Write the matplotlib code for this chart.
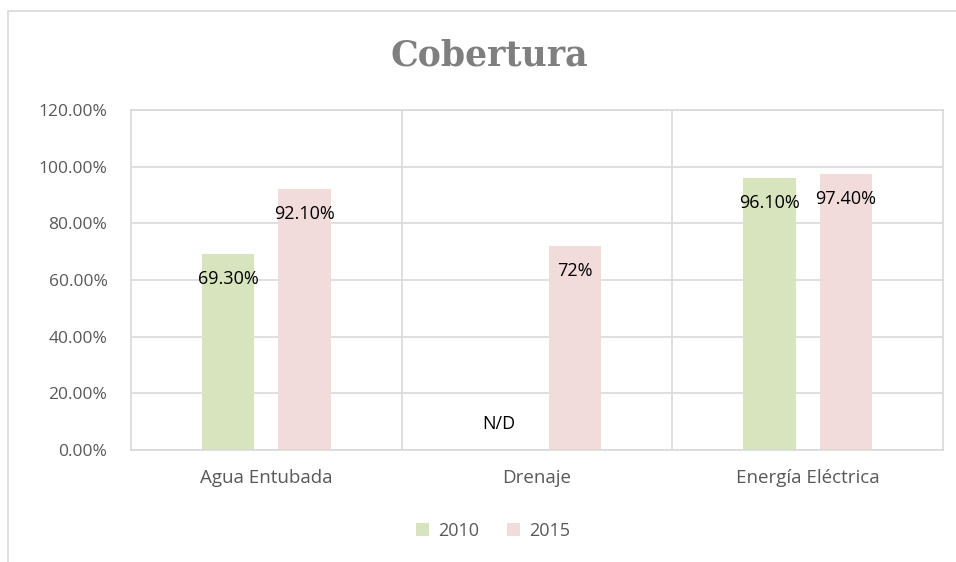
import matplotlib.pyplot as plt
from matplotlib.patches import Rectangle
from matplotlib.ticker import FuncFormatter
import numpy as np

# datos
categorias = ['Agua Entubada', 'Drenaje', 'Energía Eléctrica']
cobertura_2010 = [69.3, 0.0, 96.1]
cobertura_2015 = [92.1, 72.0, 97.4]
etiquetas_2010 = ['69.30%', 'N/D', '96.10%']
etiquetas_2015 = ['92.10%', '72%', '97.40%']
anios = ['2010', '2015']

verde = '#d7e4bd'
rosa = '#f2dcdb'
gris = '#d9d9d9'
texto = '#595959'

plt.rcParams['font.family'] = ['Open Sans', 'DejaVu Sans']

fig = plt.figure(figsize=(9.56, 5.62), dpi=100)
ax = fig.add_axes([131 / 956, 1 - 450 / 562, (943 - 131) / 956, (450 - 110) / 562])

# marco del grafico (cortado a la derecha y abajo)
fig.patches.append(Rectangle((8 / 956, -0.1), 1.2, 1 - 11 / 562 + 0.1,
                             transform=fig.transFigure, fill=False,
                             edgecolor=gris, linewidth=1.2))

x = np.arange(len(categorias))
ancho = 0.193
desp = 0.141
ax.bar(x - desp, cobertura_2010, ancho, color=verde, label=anios[0], zorder=2)
ax.bar(x + desp, cobertura_2015, ancho, color=rosa, label=anios[1], zorder=2)

# etiquetas de datos
for xi, v, t in zip(x - desp, cobertura_2010, etiquetas_2010):
    dy = -25 if v > 0 else 26
    ax.annotate(t, (xi, v), xytext=(0, dy), textcoords='offset pixels',
                ha='center', va='center', fontsize=13, color='black', zorder=3)
for xi, v, t in zip(x + desp, cobertura_2015, etiquetas_2015):
    ax.annotate(t, (xi, v), xytext=(0, -25), textcoords='offset pixels',
                ha='center', va='center', fontsize=13, color='black', zorder=3)

ax.set_xlim(-0.5, 2.5)
ax.set_ylim(0, 120)
ax.set_yticks(np.arange(0, 121, 20))
ax.yaxis.set_major_formatter(FuncFormatter(lambda v, p: f'{v:.2f}%'))
ax.set_xticks(x)
ax.set_xticklabels(categorias, fontsize=13.5)
ax.set_xticks([0.5, 1.5], minor=True)

ax.grid(axis='y', color=gris, linewidth=1.2, zorder=0)
ax.grid(axis='x', which='minor', color=gris, linewidth=1.2, zorder=0)
ax.tick_params(axis='both', which='both', length=0, labelcolor=texto)
ax.tick_params(axis='y', pad=17, labelsize=12.5)
ax.tick_params(axis='x', pad=14)
for s in ax.spines.values():
    s.set_color(gris)
    s.set_linewidth(1.2)

fig.text(489 / 956, 1 - 55 / 562, 'Cobertura', ha='center', va='center',
         fontsize=25, fontweight='bold', color='#7f7f7f', family='DejaVu Serif')

fig.legend(loc='center', bbox_to_anchor=(493 / 956, 1 - 531 / 562), ncol=2,
           frameon=False, fontsize=13, labelcolor=texto, handlelength=0.75,
           handleheight=0.75, handletextpad=0.5, columnspacing=1.5)

plt.savefig('out.png', dpi=100)
